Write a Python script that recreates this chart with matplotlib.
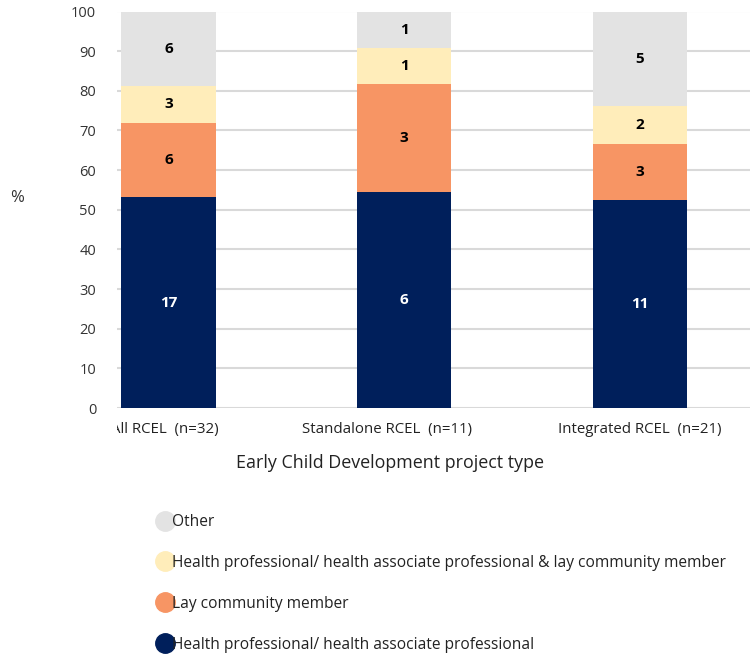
import matplotlib
matplotlib.use("Agg")
import matplotlib.pyplot as plt
from matplotlib.lines import Line2D
from matplotlib.transforms import Bbox, TransformedBbox, ScaledTranslation
import numpy as np

plt.rcParams['font.family'] = ['Open Sans', 'DejaVu Sans']

categories = ["All RCEL  (n=32)", "Standalone RCEL  (n=11)", "Integrated RCEL  (n=21)"]
series_names = ["Health professional/ health associate professional",
                "Lay community member",
                "Health professional/ health associate professional & lay community member",
                "Other"]
counts_hp = [17, 6, 11]
counts_lay = [6, 3, 3]
counts_both = [3, 1, 2]
counts_other = [6, 1, 5]
colors = ["#001F5B", "#F79564", "#FFEDBA", "#E3E3E3"]
label_colors = ["white", "black", "black", "black"]

series = [np.array(counts_hp), np.array(counts_lay), np.array(counts_both), np.array(counts_other)]
totals = sum(series)
pcts = [s / totals * 100 for s in series]

fig = plt.figure(figsize=(7.5, 6.54), dpi=100)
ax = fig.add_axes([117/750, 1 - 408/654, 1 - 117/750, (408 - 11.5)/654])

x = np.arange(len(categories))
bottom = np.zeros(len(categories))
for s, p, c, lc in zip(series, pcts, colors, label_colors):
    ax.bar(x, p, width=0.4, bottom=bottom, color=c, zorder=3)
    for xi, b, pv, cnt in zip(x, bottom, p, s):
        ax.text(xi, b + pv / 2, str(cnt), ha='center', va='center', color=lc,
                fontsize=11, fontweight='bold', zorder=4)
    bottom = bottom + p

ax.set_ylim(0, 100)
ax.set_xlim(-0.219, 2.468)
ax.set_yticks(np.arange(0, 101, 10))
ax.yaxis.grid(True, color="#D9D9D9", linewidth=1.5, zorder=0)
ax.set_axisbelow(True)
for sp in ax.spines.values():
    sp.set_visible(False)
ax.tick_params(axis='y', length=0, pad=15, labelsize=10.5, labelcolor="#333333")
ax.set_xticks([])

# category labels (layout: small horizontal nudges in pixels, clipped at plot-area left edge)
label_nudge_px = [-4, -17, 0]
clip = TransformedBbox(Bbox([[117/750, 0], [1, 1]]), fig.transFigure)
for xi, lab, dx in zip(x, categories, label_nudge_px):
    t = ax.text(xi, 0, lab, ha='center', va='top', fontsize=10.8, color="#222222",
                transform=ax.get_xaxis_transform() + ScaledTranslation(dx/100, -14/100, fig.dpi_scale_trans),
                clip_on=True)
    t.set_clip_box(clip)

fig.text(17/750, 1 - 198/654, "%", fontsize=12, ha='center', va='center', color="#333333")
fig.text(390/750, 1 - 463/654, "Early Child Development project type", fontsize=12.9,
         ha='center', va='center', color="#222222")

handles = [Line2D([0], [0], marker='o', linestyle='none', markersize=14,
                  markerfacecolor=c, markeredgecolor=c) for c in colors[::-1]]
fig.legend(handles, series_names[::-1], loc='upper left',
           bbox_to_anchor=(144/750, 1 - 500/654), frameon=False,
           handlelength=0.9, handletextpad=0.0, labelspacing=1.6,
           fontsize=11.2, labelcolor="#222222")

fig.savefig("out.png", dpi=100)
